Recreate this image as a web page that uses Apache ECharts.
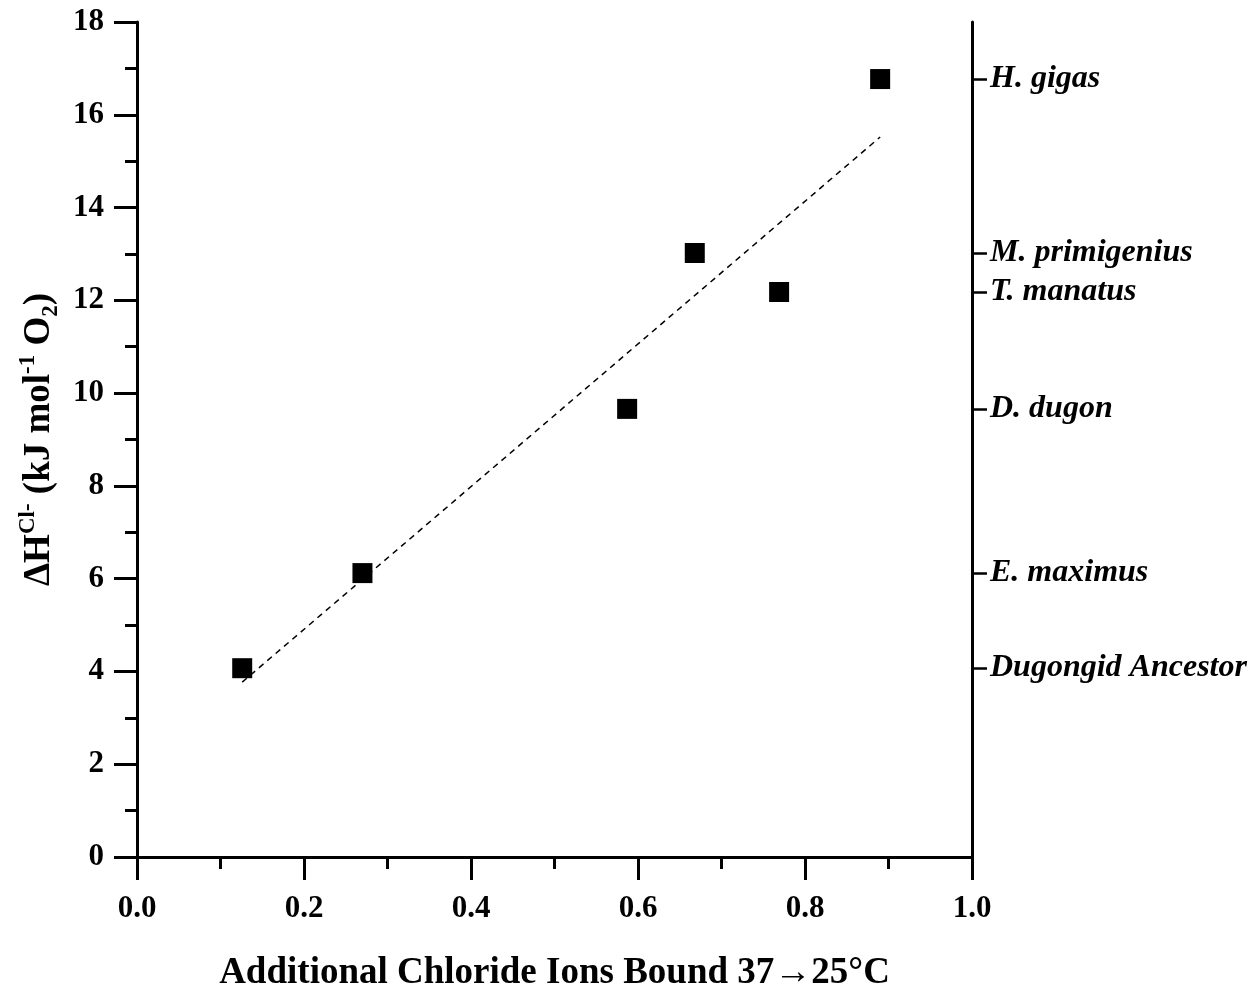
<!DOCTYPE html>
<html>
<head>
<meta charset="utf-8">
<script src="https://cdn.jsdelivr.net/npm/echarts@6/dist/echarts.min.js"></script>
<style>
  html, body { margin: 0; padding: 0; background: #fff; }
  #chart { width: 1260px; height: 994px; }
</style>
</head>
<body>
<div id="chart"></div>
<script>
// Species and their measured values
const species = ['Dugongid Ancestor', 'E. maximus', 'D. dugon', 'M. primigenius', 'T. manatus', 'H. gigas'];
const chlorideBound = [0.126, 0.270, 0.587, 0.668, 0.769, 0.890];
const deltaH = [4.07, 6.12, 9.66, 13.02, 12.18, 16.77];
// Endpoints of the linear fit drawn through the points
const fitLine = [[0.126, 3.77], [0.890, 15.52]];

const FONT = '"Liberation Serif", "Times New Roman", serif';

const points = chlorideBound.map((x, i) => [x, deltaH[i]]);

const chart = echarts.init(document.getElementById('chart'), null, { renderer: 'canvas' });

const axisLineStyle = { color: '#000', width: 3 };

chart.setOption({
  backgroundColor: '#fff',
  animation: false,
  grid: {
    left: 137, right: 288, top: 22, bottom: 137,
    containLabel: false,
    outerBoundsMode: 'none'
  },
  xAxis: {
    type: 'value',
    min: 0, max: 1, interval: 0.2,
    position: 'bottom',
    axisLine: { show: true, onZero: false, lineStyle: axisLineStyle },
    axisTick: { show: true, inside: false, length: 23, lineStyle: { color: '#000', width: 3 } },
    minorTick: { show: true, splitNumber: 2, length: 12, lineStyle: { color: '#000', width: 3 } },
    splitLine: { show: false },
    axisLabel: {
      margin: 36,
      color: '#000',
      fontFamily: FONT, fontWeight: 'bold', fontSize: 31,
      formatter: v => v.toFixed(1)
    },
    name: 'Additional Chloride Ions Bound 37\u219225\u00B0C',
    nameLocation: 'middle',
    nameGap: 98,
    nameTextStyle: { color: '#000', fontFamily: FONT, fontWeight: 'bold', fontSize: 37 }
  },
  yAxis: [
    {
      type: 'value',
      min: 0, max: 18, interval: 2,
      position: 'left',
      axisLine: { show: true, onZero: false, lineStyle: axisLineStyle },
      axisTick: { show: true, inside: false, length: 23, lineStyle: { color: '#000', width: 3 } },
      minorTick: { show: true, splitNumber: 2, length: 12, lineStyle: { color: '#000', width: 3 } },
      splitLine: { show: false },
      axisLabel: {
        margin: 33,
        color: '#000',
        fontFamily: FONT, fontWeight: 'bold', fontSize: 31
      },
      name: '{b|\u0394H}{sup|Cl-}{b| (kJ mol}{sup|-1}{b| O}{sub|2}{b|)}',
      nameLocation: 'middle',
      nameRotate: 90,
      nameGap: 73,
      nameTextStyle: {
        color: '#000',
        fontFamily: FONT, fontWeight: 'bold', fontSize: 37,
        rich: {
          b: { fontFamily: FONT, fontWeight: 'bold', fontSize: 37, lineHeight: 46, verticalAlign: 'middle', color: '#000' },
          sup: { fontFamily: FONT, fontWeight: 'bold', fontSize: 23, lineHeight: 26, verticalAlign: 'top', color: '#000' },
          sub: { fontFamily: FONT, fontWeight: 'bold', fontSize: 23, lineHeight: 22, verticalAlign: 'bottom', color: '#000' }
        }
      }
    },
    {
      type: 'value',
      min: 0, max: 18,
      position: 'right',
      axisLine: { show: true, onZero: false, lineStyle: axisLineStyle },
      axisTick: { show: true, inside: false, length: 15, customValues: deltaH, lineStyle: { color: '#000', width: 2.5 } },
      minorTick: { show: false },
      splitLine: { show: false },
      axisLabel: {
        margin: 18,
        customValues: deltaH,
        color: '#000',
        fontFamily: FONT, fontWeight: 'bold', fontStyle: 'italic', fontSize: 32,
        formatter: function (v) {
          let best = 0;
          for (let i = 1; i < deltaH.length; i++) {
            if (Math.abs(deltaH[i] - v) < Math.abs(deltaH[best] - v)) best = i;
          }
          return species[best];
        }
      }
    }
  ],
  series: [
    {
      name: 'fit',
      type: 'line',
      data: fitLine,
      symbol: 'none',
      silent: true,
      lineStyle: { color: '#000', width: 1.5, type: [6, 5] },
      z: 2
    },
    {
      name: 'species',
      type: 'scatter',
      data: points,
      symbol: 'rect',
      symbolSize: 20,
      itemStyle: { color: '#000', opacity: 1 },
      z: 3
    }
  ]
});
</script>
</body>
</html>
